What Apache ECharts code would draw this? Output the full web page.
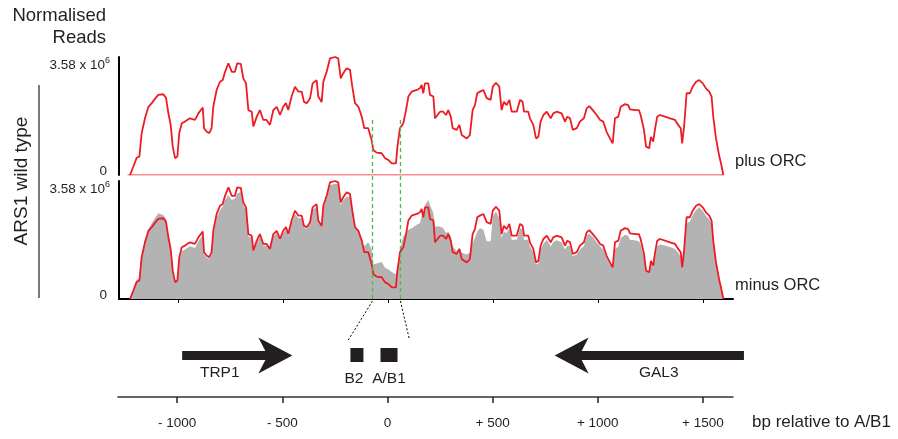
<!DOCTYPE html>
<html><head><meta charset="utf-8">
<script src="https://cdn.jsdelivr.net/npm/echarts@6/dist/echarts.min.js"></script>
<style>html,body{margin:0;padding:0;background:#fff}#c{width:898px;height:439px}</style>
</head><body><div id="c"></div>
<script>
// ---- data (bp relative to A/B1; reads in units of 10^6) ----
const positions = [-1229,-1213,-1197,-1184,-1173,-1157,-1141,-1125,-1110,-1094,
 -1070,-1057,-1046,-1035,-1025,-1014,-1003,-994,-982,-967,
 -943,-919,-903,-882,-876,-863,-851,-840,-832,-816,
 -800,-787,-776,-760,-744,-729,-718,-701,-689,-676,
 -665,-649,-641,-625,-610,-594,-578,-562,-546,-530,
 -514,-499,-486,-475,-459,-443,-427,-411,-400,-387,
 -371,-359,-340,-332,-316,-308,-292,-276,-252,-237,
 -225,-213,-197,-181,-170,-157,-141,-125,-113,-94,
 -78,-70,-54,-30,-14,1,18,38,44,57,
 73,86,97,113,137,152,160,168,176,192,
 200,216,224,232,248,263,276,287,299,308,
 327,340,351,375,390,403,414,425,438,454,
 470,489,499,514,530,541,552,565,578,589,
 613,629,641,648,668,676,692,705,716,727,
 740,756,763,775,787,803,827,843,854,867,
 880,899,914,933,946,959,975,994,1010,1025,
 1041,1057,1070,1081,1097,1108,1129,1144,1152,1176,
 1195,1203,1219,1229,1244,1252,1263,1271,1282,1295,
 1319,1343,1367,1382,1394,1401,1410,1422,1438,1451,
 1467,1482,1499,1514,1530,1541,1549,1562,1568,1578,
 1586,1597];
const plusORC = [0,0.25,0.52,0.56,1.27,1.73,2.07,2.18,2.31,2.43,
 2.45,2.34,1.88,1.52,0.86,0.51,0.56,1.27,1.57,1.62,
 1.72,1.67,1.87,2.05,1.42,1.31,1.27,1.42,2.07,2.58,
 2.83,2.88,3.13,3.39,3.13,3.13,3.39,3.37,2.93,2.78,
 1.97,1.92,1.47,1.77,1.97,1.67,1.67,1.52,1.97,2.07,
 1.82,2.07,2.18,1.97,2.38,2.68,2.53,2.53,2.22,2.18,
 2.33,2.78,2.88,2.38,2.21,2.83,3.13,3.54,3.58,3.54,
 2.93,3.09,3.24,3.19,2.68,2.18,2.07,1.77,1.42,1.42,
 1.06,0.76,0.68,0.66,0.51,0.46,0.35,0.35,0.81,1.42,
 1.57,1.97,2.38,2.53,2.58,2.63,2.73,2.48,2.78,2.78,
 2.43,2.38,1.72,1.67,1.92,1.92,1.82,1.97,1.77,1.42,
 1.37,1.52,1.21,1.11,1.21,1.97,2.12,2.48,2.53,2.58,
 2.33,2.28,2.68,2.80,2.68,1.97,2.22,2.12,2.28,1.92,
 1.92,2.28,2.22,1.92,1.92,1.72,1.52,1.11,1.16,1.62,
 1.82,1.92,1.97,1.72,1.87,1.92,1.87,1.62,1.77,1.72,
 1.37,1.42,1.62,1.72,2.02,2.09,1.97,1.82,1.67,1.62,
 1.31,1.11,0.96,1.72,1.77,2.07,2.15,2.12,1.99,1.97,
 1.97,1.82,1.37,0.86,0.81,1.16,1.01,1.37,1.77,1.82,
 1.77,1.72,1.67,1.52,1.42,0.96,1.47,2.48,2.48,2.68,
 2.83,2.88,2.78,2.63,2.53,2.38,1.77,1.11,1.06,0.56,
 0.35,0];
const minusORC = [0,0.3,0.58,0.62,1.35,1.8,2.12,2.30,2.45,2.60,
 2.55,2.42,1.95,1.55,0.9,0.55,0.6,1.2,1.45,1.5,
 1.6,1.55,1.75,1.95,1.35,1.25,1.22,1.35,1.95,2.45,
 2.7,2.8,3.0,3.15,3.0,3.05,3.2,3.25,2.85,2.7,
 1.9,1.85,1.45,1.7,1.9,1.62,1.62,1.5,1.9,2.0,
 1.78,2.0,2.1,1.92,2.3,2.58,2.45,2.45,2.18,2.12,
 2.28,2.7,2.8,2.35,2.18,2.75,3.05,3.45,3.5,3.48,
 2.85,3.0,3.1,3.1,2.65,2.15,2.05,1.8,1.6,1.72,
 1.5,1.05,1.08,1.12,0.95,0.9,0.82,0.75,0.9,1.5,
 1.9,2.0,2.1,2.15,2.25,2.3,2.5,2.6,2.85,3.0,
 2.85,2.6,2.2,2.15,2.2,2.15,2.0,2.05,1.9,1.6,
 1.45,1.55,1.4,1.35,1.4,1.7,1.85,2.05,2.15,2.1,
 1.75,1.75,2.5,2.65,2.45,1.85,2.05,2.0,2.15,1.8,
 1.8,2.15,2.1,1.8,1.8,1.6,1.42,1.05,1.08,1.5,
 1.68,1.8,1.82,1.6,1.72,1.78,1.72,1.5,1.62,1.6,
 1.3,1.35,1.5,1.6,1.92,1.98,1.88,1.72,1.6,1.5,
 1.25,1.05,0.95,1.5,1.6,1.85,1.95,1.92,1.8,1.78,
 1.75,1.65,1.25,0.85,0.8,1.1,0.98,1.25,1.6,1.65,
 1.62,1.58,1.52,1.4,1.3,0.95,1.35,2.3,2.35,2.55,
 2.7,2.78,2.68,2.52,2.42,2.3,1.72,1.1,1.02,0.55,
 0.33,0];
const yTicks = [0, 3.58];
const yTickLabels = ['{z|0}', '{t|3.58 x 10}{s|6}'];
const xTickValues = [-1000, -500, 0, 500, 1000, 1500];
const xTickLabels = ['- 1000', '- 500', '0', '+ 500', '+ 1000', '+ 1500'];
const xRange = [-1281, 1643];
const baselineRange = [-1240, 1597];
const genes = [['TRP1', -976, -452], ['GAL3', 1695, 795]];   // name, start, arrow tip
const elements = [['B2', -176, -114], ['A/B1', -33, 48]];    // name, start, end
const guideSites = [-71, 62];
const zoomEnds = [-186, 105];

// ---- chart ----
const FONT = "'Liberation Sans', Arial, sans-serif";
const INK = '#231f20';
const RED = '#ed1c24';
const chart = echarts.init(document.getElementById('c'), null, {renderer: 'canvas'});

const yLabel = {
  formatter: v => yTickLabels[yTicks.indexOf(v)] || '',
  margin: 9,
  rich: {
    z: {fontSize: 13.5, fontFamily: FONT, color: INK, padding: [0, 3, 8, 0]},
    t: {fontSize: 13.5, fontFamily: FONT, color: INK, padding: [16, 0, 0, 0]},
    s: {fontSize: 9, fontFamily: FONT, color: INK, padding: [0, 0, 7, 0], verticalAlign: 'bottom'}
  }
};
function yAxisFor(gi) {
  return {gridIndex: gi, type: 'value', min: 0, max: yTicks[1], interval: yTicks[1],
    axisLine: {show: true, onZero: false, lineStyle: {color: '#000', width: 2}},
    axisTick: {show: false}, splitLine: {show: false}, axisLabel: yLabel};
}
const redData = positions.map((p, i) => [p, plusORC[i]]);
const greyData = positions.map((p, i) => [p, minusORC[i]]);

const option = {
  animation: false,
  backgroundColor: '#fff',
  grid: [
    {left: 119, width: 614, top: 57, height: 118},
    {left: 119, width: 614, top: 181, height: 118},
    {left: 118, width: 615, top: 300, height: 97}
  ],
  xAxis: [
    {gridIndex: 0, type: 'value', min: xRange[0], max: xRange[1], show: false},
    {gridIndex: 1, type: 'value', min: xRange[0], max: xRange[1],
      axisLine: {show: true, onZero: false, lineStyle: {color: '#000', width: 2}},
      axisTick: {show: true, length: 4, lineStyle: {color: '#000', width: 1}, customValues: xTickValues},
      axisLabel: {show: false}, splitLine: {show: false}},
    {gridIndex: 2, type: 'value', min: xRange[0], max: xRange[1],
      axisLine: {show: true, onZero: false, lineStyle: {color: '#333', width: 1.5}},
      axisTick: {show: true, length: 6, lineStyle: {color: '#222', width: 1.5}, customValues: xTickValues},
      axisLabel: {show: true, margin: 19, fontSize: 13.5, fontFamily: FONT, color: INK,
        customValues: xTickValues, formatter: v => xTickLabels[xTickValues.indexOf(v)]},
      splitLine: {show: false}}
  ],
  yAxis: [yAxisFor(0), yAxisFor(1),
    {gridIndex: 2, type: 'value', min: 0, max: 1, show: false}],
  series: [
    {type: 'line', xAxisIndex: 0, yAxisIndex: 0, data: baselineRange.map(x => [x, 0]),
      showSymbol: false, lineStyle: {color: RED, width: 1}, silent: true},
    {type: 'line', xAxisIndex: 0, yAxisIndex: 0, data: redData, showSymbol: false,
      lineStyle: {color: RED, width: 1.8}, z: 3},
    {type: 'line', xAxisIndex: 1, yAxisIndex: 1, data: greyData, showSymbol: false,
      lineStyle: {width: 0}, areaStyle: {color: '#b3b3b3', opacity: 1}, z: 2},
    {type: 'line', xAxisIndex: 1, yAxisIndex: 1, data: redData, showSymbol: false,
      lineStyle: {color: RED, width: 1.8}, z: 3},
    // green guide lines and dotted zoom lines
    {type: 'custom', xAxisIndex: 2, yAxisIndex: 2, clip: false, z: 10,
      data: guideSites.map((g, i) => [g, zoomEnds[i]]),
      renderItem: (params, api) => {
        const xg = api.coord([api.value(0), 0])[0];
        const xz = api.coord([api.value(1), 0])[0];
        return {type: 'group', children: [
          {type: 'line', shape: {x1: xg, y1: 120, x2: xg, y2: 301},
            style: {stroke: '#4dbb55', lineWidth: 1.3, lineDash: [4, 3]}},
          {type: 'line', shape: {x1: xg, y1: 301, x2: xz, y2: 340},
            style: {stroke: '#000', lineWidth: 1, lineDash: [2, 2]}}
        ]};
      }},
    // ARS elements
    {type: 'custom', xAxisIndex: 2, yAxisIndex: 2, clip: false, z: 10,
      data: elements.map(e => [e[1], e[2]]),
      renderItem: (params, api) => {
        const a = api.coord([api.value(0), 0])[0];
        const b = api.coord([api.value(1), 0])[0];
        const name = elements[params.dataIndex][0];
        return {type: 'group', children: [
          {type: 'rect', shape: {x: a, y: 348, width: b - a, height: 14}, style: {fill: '#231f20'}},
          {type: 'text', style: {text: name, x: (a + b) / 2 - (name === 'B2' ? 3 : 0), y: 379,
            align: 'center', verticalAlign: 'middle', font: '15.5px ' + FONT, fill: INK}}
        ]};
      }},
    // gene arrows
    {type: 'custom', xAxisIndex: 2, yAxisIndex: 2, clip: false, z: 10,
      data: genes.map(g => [g[1], g[2]]),
      renderItem: (params, api) => {
        const x0 = api.coord([api.value(0), 0])[0];
        const xt = api.coord([api.value(1), 0])[0];
        const d = xt > x0 ? 1 : -1;
        const yc = 355.5, hw = 4.5, head = 34, notch = 7, hh = 18;
        const pts = [[x0, yc - hw], [xt - d * (head - notch), yc - hw], [xt - d * head, yc - hh],
          [xt, yc], [xt - d * head, yc + hh], [xt - d * (head - notch), yc + hw], [x0, yc + hw]];
        const xs = (x0 + xt - d * (head - notch)) / 2;
        return {type: 'group', children: [
          {type: 'polygon', shape: {points: pts}, style: {fill: '#231f20'}},
          {type: 'text', style: {text: genes[params.dataIndex][0], x: xs - 4, y: 373,
            align: 'center', verticalAlign: 'middle', font: '15.5px ' + FONT, fill: INK}}
        ]};
      }}
  ],
  graphic: [
    {type: 'text', style: {text: 'Normalised', x: 106, y: 16, align: 'right', verticalAlign: 'middle', font: '18.5px ' + FONT, fill: INK}},
    {type: 'text', style: {text: 'Reads', x: 106, y: 38, align: 'right', verticalAlign: 'middle', font: '18.5px ' + FONT, fill: INK}},
    {type: 'text', x: 22, y: 181, rotation: Math.PI / 2,
      style: {text: 'ARS1 wild type', x: 0, y: 0, align: 'center', verticalAlign: 'middle', font: '19px ' + FONT, fill: INK}},
    {type: 'line', shape: {x1: 39, y1: 85, x2: 39, y2: 298}, style: {stroke: '#231f20', lineWidth: 1.2}},
    {type: 'text', style: {text: 'plus ORC', x: 735, y: 161, align: 'left', verticalAlign: 'middle', font: '16.5px ' + FONT, fill: INK}},
    {type: 'text', style: {text: 'minus ORC', x: 735, y: 285, align: 'left', verticalAlign: 'middle', font: '16.5px ' + FONT, fill: INK}},
    {type: 'text', style: {text: 'bp relative to A/B1', x: 752, y: 422, align: 'left', verticalAlign: 'middle', font: '17px ' + FONT, fill: INK}}
  ]
};
chart.setOption(option);
</script></body></html>
